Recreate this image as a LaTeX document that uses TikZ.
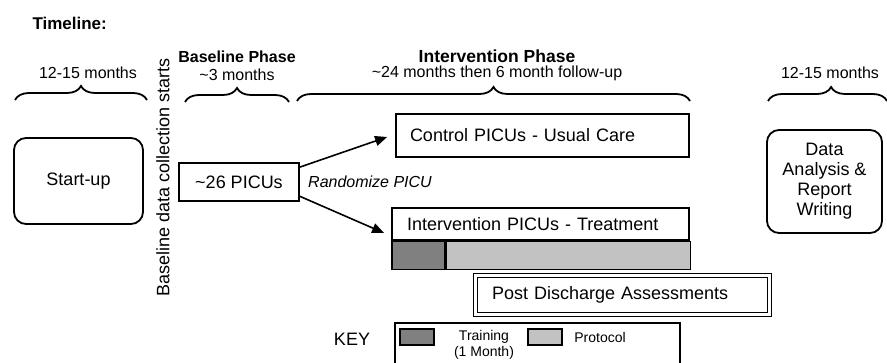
\documentclass[tikz,border=0pt]{standalone}
\usepackage{fontspec}
\setmainfont{Liberation Sans}
\usetikzlibrary{calc,arrows.meta,decorations.pathreplacing}
\definecolor{darkgr}{RGB}{128,128,128}
\definecolor{lightgr}{RGB}{194,194,194}
\begin{document}
\begin{tikzpicture}[x=1pt,y=-1pt,
  ftbig/.style={font=\fontsize{18}{20}\selectfont},
  ftmid/.style={font=\fontsize{16}{18}\selectfont},
  ftsmall/.style={font=\fontsize{14}{16}\selectfont},
  boxst/.style={draw,line width=1.8pt,inner sep=0pt,ftbig},
  roundbox/.style={boxst,rounded corners=12pt,align=center},
  bracest/.style={decorate,decoration={brace,amplitude=14pt,aspect=0.5},line width=1.8pt},
  arrowst/.style={line width=1.6pt,-{Triangle[length=12pt,width=10pt]}},
  trainst/.style={draw,line width=1.6pt,fill=darkgr,inner sep=0pt},
  protost/.style={draw,line width=1.6pt,fill=lightgr,inner sep=0pt}
]
\useasboundingbox (0,0) rectangle (887,363);
\clip (0,0) rectangle (887,363);

% header
\node[anchor=west,font=\fontsize{17}{19}\selectfont\bfseries] (tl) at (29,23) {Timeline:};

\coordinate (b1s) at (15,100); \coordinate (b1e) at (147,100);
\coordinate (b2s) at (185,102); \coordinate (b2e) at (289,102);
\coordinate (b3s) at (297,101); \coordinate (b3e) at (690,101);
\coordinate (b4s) at (768,101); \coordinate (b4e) at (887,101);
\draw[bracest] (b1s) -- (b1e);
\draw[bracest] (b2s) -- (b2e);
\draw[bracest] (b3s) -- (b3e);
\draw[bracest,decoration={aspect=0.53}] (b4s) -- (b4e);

\node[ftmid] (l1) at (88,73) {12-15 months};
\node[ftmid,font=\fontsize{16}{18}\selectfont\bfseries] (bph) at (237,57) {Baseline Phase};
\node[ftmid] (l2) at (237,75) {\textasciitilde3 months};
\node[font=\fontsize{17.5}{19}\selectfont\bfseries] (iph) at (497,56) {Intervention Phase};
\node[ftmid] (l3) at (497,73) {\textasciitilde24 months then 6 month follow-up};
\node[ftmid] (l4) at (830,73) {12-15 months};

\node[ftbig,rotate=90] (vert) at (163,177.5) {Baseline data collection starts};

% boxes
\node[roundbox,minimum width=129pt,minimum height=86pt] (start) at (78.5,181) {Start-up};
\node[boxst,minimum width=120pt,minimum height=38pt] (pic) at (239,182) {\textasciitilde26 PICUs};
\node[ftmid,font=\fontsize{16}{18}\selectfont\itshape,anchor=west,inner sep=0pt] (rand) at (308,182) {Randomize PICU};

\node[boxst,inner xsep=14pt,text width=265pt,align=left,minimum height=43pt] (ctrl) at (542.5,135.5) {Control PICUs - Usual Care};
\node[boxst,inner xsep=15pt,text width=267pt,align=left,minimum height=32pt] (intv) at (540.5,224) {Intervention PICUs - Treatment};
\node[trainst,anchor=north west,minimum width=53pt,minimum height=28pt] (trn) at (intv.south west) {};
\node[protost,anchor=west,minimum width=244pt,minimum height=28pt] (prt) at (trn.east) {};

\node[draw,line width=1.5pt,double,double distance=2.5pt,inner sep=0pt,ftbig,
  inner xsep=16.5pt,text width=261pt,align=left,minimum height=39pt] (post) at (622.5,295) {Post Discharge Assessments};

\node[roundbox,minimum width=115pt,minimum height=103pt] (data) at (824.5,181.5) {Data\\Analysis \&\\Report\\Writing};

% arrows
\draw[arrowst] ($(pic.north east)+(0,5)$) -- ($(ctrl.west)+(-8,1.5)$);
\draw[arrowst] ($(pic.south east)+(-1,-6)$) -- ($(intv.west)+(-7,9)$);

% key
\node[ftbig] (keyt) at (352,339) {KEY};
\node[draw,line width=1.8pt,anchor=north west,minimum width=285pt,minimum height=60pt,inner sep=0pt] (keybox) at (394,322) {};
\node[trainst,minimum width=34pt,minimum height=16pt] (ktr) at (417,337) {};
\node[protost,minimum width=34pt,minimum height=16pt] (kpr) at (545,337) {};
\node[ftsmall,align=center] (ktrt) at (484,345) {Training\\(1 Month)};
\node[ftsmall] (kprt) at (600,337) {Protocol};
\end{tikzpicture}
\end{document}
